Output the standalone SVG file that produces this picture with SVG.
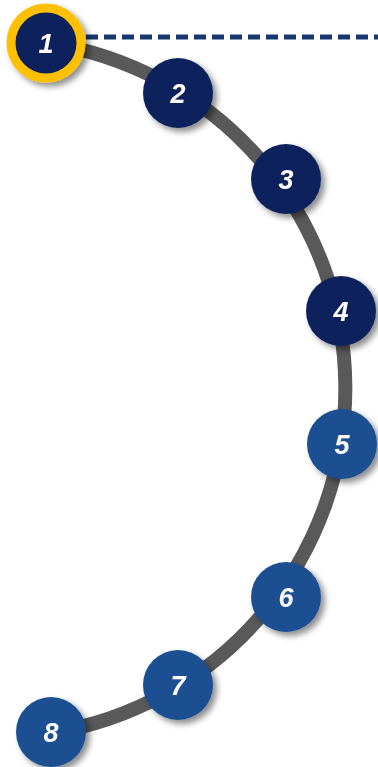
<svg xmlns="http://www.w3.org/2000/svg" width="378" height="767" viewBox="0 0 378 767">
  <defs>
    <filter id="shadow" x="-30%" y="-30%" width="170%" height="170%">
      <feGaussianBlur in="SourceAlpha" stdDeviation="3"/>
      <feOffset dx="4" dy="4" result="b"/>
      <feComponentTransfer><feFuncA type="linear" slope="0.45"/></feComponentTransfer>
      <feMerge><feMergeNode/><feMergeNode in="SourceGraphic"/></feMerge>
    </filter>
    <style>
      .dark { fill: #0d215c; }
      .mid { fill: #1b4f91; }
      .num { fill: #ffffff; font-family: "Liberation Sans", Arial, sans-serif; font-weight: bold; font-style: italic; font-size: 27px; text-anchor: middle; dominant-baseline: central; }
    </style>
  </defs>
  <rect width="378" height="767" fill="#ffffff"/>
  <g id="connectors">
    <line x1="86" y1="37" x2="378" y2="37" stroke="#17386e" stroke-width="5" stroke-dasharray="12 6"/>
    <path d="M 47 43 A 349 349 0 0 1 51 733" fill="none" stroke="#595959" stroke-width="14"/>
  </g>
  <g id="node1" filter="url(#shadow)">
    <circle cx="46" cy="43" r="35" class="dark" stroke="#ffc000" stroke-width="9"/>
    <text x="46" y="44" class="num">1</text>
  </g>
  <g id="node2" filter="url(#shadow)">
    <circle cx="178" cy="93" r="35" class="dark"/>
    <text x="178" y="94" class="num">2</text>
  </g>
  <g id="node3" filter="url(#shadow)">
    <circle cx="286" cy="179" r="35" class="dark"/>
    <text x="286" y="180" class="num">3</text>
  </g>
  <g id="node4" filter="url(#shadow)">
    <circle cx="341" cy="311" r="35" class="dark"/>
    <text x="341" y="312" class="num">4</text>
  </g>
  <g id="node5" filter="url(#shadow)">
    <circle cx="342" cy="444" r="35" class="mid"/>
    <text x="342" y="445" class="num">5</text>
  </g>
  <g id="node6" filter="url(#shadow)">
    <circle cx="286" cy="597" r="35" class="mid"/>
    <text x="286" y="598" class="num">6</text>
  </g>
  <g id="node7" filter="url(#shadow)">
    <circle cx="178" cy="685" r="35" class="mid"/>
    <text x="178" y="686" class="num">7</text>
  </g>
  <g id="node8" filter="url(#shadow)">
    <circle cx="51" cy="732" r="35" class="mid"/>
    <text x="51" y="733" class="num">8</text>
  </g>
</svg>
